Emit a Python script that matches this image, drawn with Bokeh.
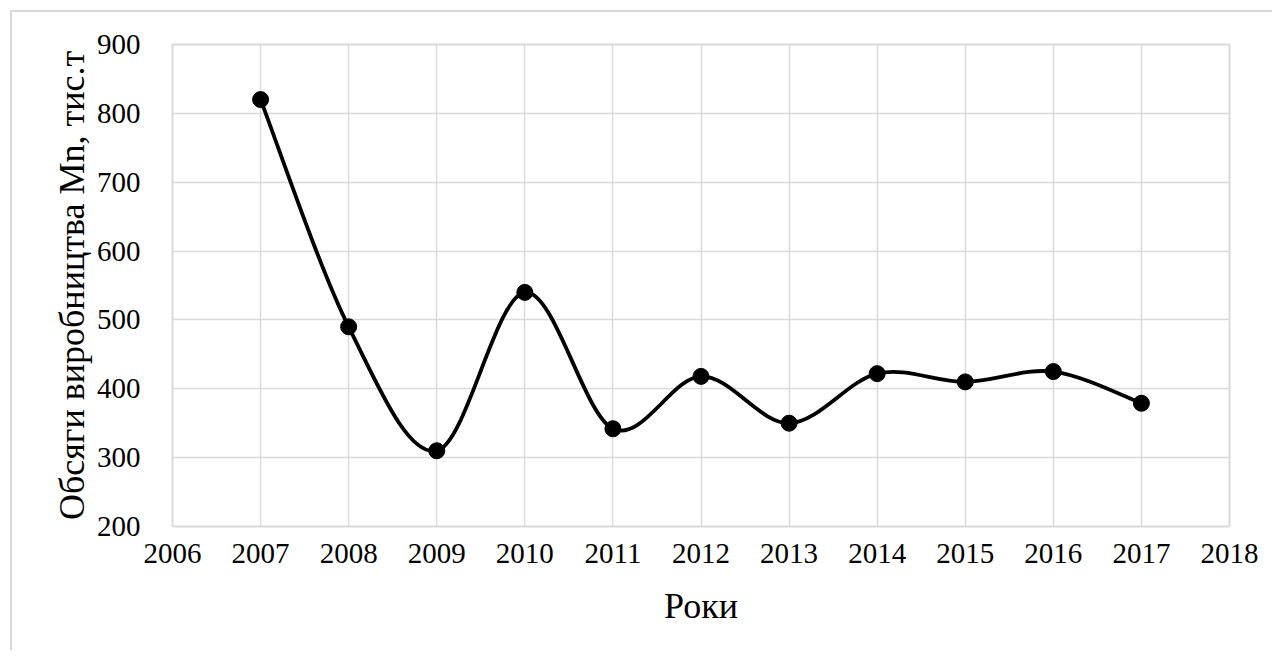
import numpy as np
from bokeh.plotting import figure
from bokeh.models import Range1d, FixedTicker
from bokeh.embed import file_html
from bokeh.resources import INLINE

years = [2007, 2008, 2009, 2010, 2011, 2012, 2013, 2014, 2015, 2016, 2017]
volumes = [820, 490, 310, 540, 342, 418, 350, 422, 410, 425, 379]
x_ticks = list(range(2006, 2019))
y_ticks = list(range(200, 1000, 100))

FONT = "Liberation Serif"
GRID = "#d9d9d9"

p = figure(width=1262, height=640, output_backend="svg", toolbar_location=None,
           x_range=Range1d(2006, 2018), y_range=Range1d(200, 900),
           min_border_left=160, min_border_right=45, min_border_top=32, min_border_bottom=126)
p.styles = {"border-left": "2px solid #d9d9d9", "border-top": "2px solid #d9d9d9",
            "margin-left": "10px", "margin-top": "10px"}

p.outline_line_color = GRID
p.outline_line_width = 2
p.background_fill_color = "white"
p.border_fill_color = "white"

for ax in (p.xaxis[0], p.yaxis[0]):
    ax.axis_line_color = None
    ax.major_tick_line_color = None
    ax.minor_tick_line_color = None
    ax.major_label_text_font = FONT
    ax.major_label_text_font_size = "29px"
    ax.major_label_text_color = "#000000"
    ax.axis_label_text_font = FONT
    ax.axis_label_text_font_size = "36px"
    ax.axis_label_text_font_style = "normal"
    ax.axis_label_text_color = "#000000"

p.xaxis.ticker = FixedTicker(ticks=x_ticks)
p.yaxis.ticker = FixedTicker(ticks=y_ticks)
p.xaxis.axis_label = "Роки"
p.yaxis.axis_label = "Обсяги виробництва Mn, тис.т"
p.xaxis.major_label_standoff = 11
p.yaxis.major_label_standoff = 26
p.xaxis.axis_label_standoff = 20
p.yaxis.axis_label_standoff = 2

p.xgrid.grid_line_color = GRID
p.ygrid.grid_line_color = GRID
p.xgrid.grid_line_width = 1.5
p.ygrid.grid_line_width = 1.5

# Smoothed line (Catmull-Rom style Bezier through the data points)
X = np.array(years, dtype=float)
Y = np.array(volumes, dtype=float)
n = len(X)
Xp = np.concatenate([[X[0]], X, [X[-1]]])
Yp = np.concatenate([[Y[0]], Y, [Y[-1]]])
x0 = X[:-1]; y0 = Y[:-1]; x1 = X[1:]; y1 = Y[1:]
cx0 = X[:-1] + (Xp[2:n + 1] - Xp[0:n - 1]) / 6.0
cy0 = Y[:-1] + (Yp[2:n + 1] - Yp[0:n - 1]) / 6.0
cx1 = X[1:] - (Xp[3:n + 2] - Xp[1:n]) / 6.0
cy1 = Y[1:] - (Yp[3:n + 2] - Yp[1:n]) / 6.0
p.bezier(x0=x0, y0=y0, x1=x1, y1=y1, cx0=cx0, cy0=cy0, cx1=cx1, cy1=cy1,
         line_color="black", line_width=3.8)

p.scatter(years, volumes, size=16, fill_color="black", line_color="black")

open("out.html", "w").write(file_html(p, INLINE))
